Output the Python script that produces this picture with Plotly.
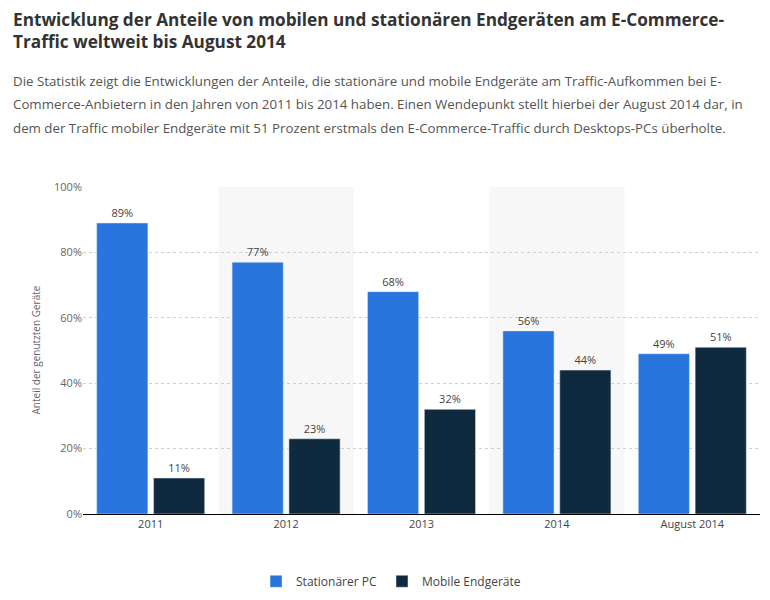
import plotly.graph_objects as go

categories = ["2011", "2012", "2013", "2014", "August 2014"]
stationaer = [89, 77, 68, 56, 49]
mobile = [11, 23, 32, 44, 51]
y_ticks = [0, 20, 40, 60, 80, 100]
y_tick_labels = ["0%", "20%", "40%", "60%", "80%", "100%"]
shaded = ["2012", "2014"]

title_lines = ["Entwicklung der Anteile von mobilen und stationären Endgeräten am E-Commerce-",
               "Traffic weltweit bis August 2014"]
subtitle_lines = ["Die Statistik zeigt die Entwicklungen der Anteile, die stationäre und mobile Endgeräte am Traffic-Aufkommen bei E-",
                  "Commerce-Anbietern in den Jahren von 2011 bis 2014 haben. Einen Wendepunkt stellt hierbei der August 2014 dar, in",
                  "dem der Traffic mobiler Endgeräte mit 51 Prozent erstmals den E-Commerce-Traffic durch Desktops-PCs überholte."]

OFF = 8  # page body margin
W, H = 770, 600
ml, mr, mt, mb = 83 - OFF, 18, 187 - OFF, 89
pw, ph = W - ml - mr, H - mt - mb

fig = go.Figure()
fig.add_trace(go.Bar(name="Stationärer PC", x=categories, y=stationaer, marker_color="#2876dd",
                     text=[f"{v}%" for v in stationaer], textposition="outside",
                     textfont=dict(size=11, color="#444"), cliponaxis=False))
fig.add_trace(go.Bar(name="Mobile Endgeräte", x=categories, y=mobile, marker_color="#0f2a3f",
                     text=[f"{v}%" for v in mobile], textposition="outside",
                     textfont=dict(size=11, color="#444"), cliponaxis=False))

for c in shaded:
    i = categories.index(c)
    fig.add_shape(type="rect", xref="x", yref="paper", x0=i - 0.5, x1=i + 0.5, y0=0, y1=1,
                  fillcolor="#f7f7f7", line_width=0, layer="below")

def px(xs):
    return (xs - OFF - ml) / pw

def py(ys):
    return (H - mb - (ys - OFF)) / ph

for k, line in enumerate(title_lines):
    fig.add_annotation(text=f"<b>{line}</b>", xref="paper", yref="paper", x=px(11), y=py(17 + 22 * k),
                       xanchor="left", yanchor="middle", align="left", showarrow=False,
                       font=dict(family="Open Sans", size=17.2, color="#333"))
for k, line in enumerate(subtitle_lines):
    fig.add_annotation(text=line, xref="paper", yref="paper", x=px(11), y=py(79 + 24 * k),
                       xanchor="left", yanchor="middle", align="left", showarrow=False,
                       font=dict(family="Open Sans", size=13.3, color="#555"))
fig.add_annotation(text="Anteil der genutzten Geräte", xref="paper", yref="paper", x=px(35), y=0.5,
                   xanchor="center", yanchor="middle",
                   textangle=-90, showarrow=False, font=dict(family="Open Sans", size=10, color="#666"))

fig.update_layout(
    width=W, height=H,
    margin=dict(l=ml, r=mr, t=mt, b=mb),
    paper_bgcolor="white", plot_bgcolor="white",
    barmode="group", bargap=0.16, bargroupgap=0.1,
    font=dict(family="Open Sans", size=11, color="#555"),
    legend=dict(orientation="h", x=0.455, xanchor="center", y=py(602), yanchor="bottom",
                font=dict(size=12, color="#444"), tracegroupgap=0),
    xaxis=dict(showline=True, linecolor="#000", linewidth=1, ticks="", tickfont=dict(size=11, color="#444")),
    yaxis=dict(range=[0, 100], tickvals=y_ticks, ticktext=y_tick_labels, showgrid=True,
               gridcolor="#cfcfcf", griddash="dot", zeroline=False, tickfont=dict(size=11, color="#666")),
    showlegend=True,
)

fig.write_html("out.html")
